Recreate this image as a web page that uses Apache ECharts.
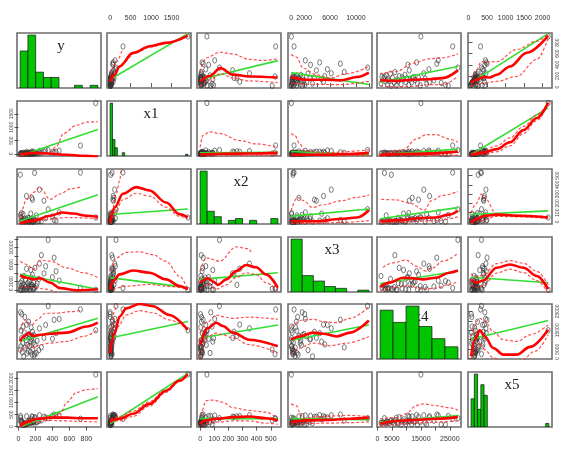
<!DOCTYPE html>
<html><head><meta charset="utf-8">
<script src="https://cdn.jsdelivr.net/npm/echarts@6/dist/echarts.min.js"></script>
<style>html,body{margin:0;padding:0;background:#fff}#c{width:563px;height:450px}</style>
</head><body><div id="c"></div>
<script>
// ---------- variables ----------
const varNames = ['y','x1','x2','x3','x4','x5'];
const dataY  = [910,730,190,350,480,158,247,443,420,400,320,300,270,240,220,210,195,185,180,175,170,165,160,155,150,145,140,135,130,125,120,115,108,100,95,90,85,80,75,70,62,55,50,45,40,35,30,28,25,22];
const dataX1 = [1900,314,50,145,120,95,110,80,60,70,130,85,40,35,30,25,45,20,15,55,10,65,28,12,5,40,22,8,18,30,48,3,12,25,75,6,16,35,2,9,20,44,1,13,4,8,26,7,2,14];
const dataX2 = [48,534,530,137,103,260,349,14,22,60,40,230,8,12,5,70,18,3,30,10,2,240,6,35,4,90,15,26,1,42,9,3,44,16,280,7,28,2,11,33,5,85,20,12,3,95,50,8,75,510];
const dataX3 = [50,460,300,11800,2200,1200,6200,4400,7600,3000,5600,3900,8200,2600,1500,900,5200,600,1800,350,150,3600,1100,2900,700,4700,200,1300,100,2000,800,400,1600,250,5000,120,2400,650,1000,180,3300,80,1400,500,2100,60,900,30,1700,300];
const dataX4 = [15000,26000,2400,27800,21000,12000,16000,13500,20500,10500,17800,11000,6000,4500,9500,3000,7500,1500,12500,8500,5200,14200,2100,10200,16500,9000,3600,11200,6800,13000,19500,4000,7200,2800,18000,9800,11800,5800,22000,13800,1200,17000,8200,3400,23500,10800,14800,6500,24500,4800];
const dataX5 = [2150,324,350,350,460,420,470,480,500,440,380,410,260,230,200,180,390,170,210,240,190,400,175,205,165,300,185,215,160,225,245,150,120,140,430,110,100,130,90,80,150,95,85,200,75,240,190,370,440,260];

// axis ranges (data range + 4%)
const axisMinArr = [-17, -76, -22, -480, -176, -14];
const axisMaxArr = [972, 1976, 572, 12480, 28876, 2254];

// tick values and tick labels
const ticksY  = [0,200,400,600,800];            const labelsY  = [0,200,400,600,800];
const ticksX1 = [0,500,1000,1500];              const labelsX1 = [0,500,1000,1500];
const ticksX2 = [0,100,200,300,400,500];        const labelsX2 = [0,100,200,300,400,500];
const ticksX3 = [0,2000,4000,6000,8000,10000,12000]; const labelsX3 = [0,2000,6000,10000];
const ticksX4 = [0,5000,10000,15000,20000,25000];    const labelsX4 = [0,5000,15000,25000];
const ticksX5 = [0,500,1000,1500,2000];         const labelsX5 = [0,500,1000,1500,2000];

// histograms (diagonal)
const histStart = [20, 0, 0, 0, 900, 70];
const histWidth = [91.5, 59.4, 50, 1714, 4483, 87.5];
const histCountsY  = [14,20,6,4,4,0,0,1,0,1];
const histCountsX1 = [32,10,5,0,0,2,0,0,0,0,0,0,0,0,0,0,0,0,0,0,0,0,0,0,0,0,0,0,0,0,0,1];
const histCountsX2 = [29,7,4,0,2,3,0,2,0,0,3];
const histCountsX3 = [29,9,6,3,2,0,1];
const histCountsX4 = [12,9,13,8,5,3];
const histCountsX5 = [8,15,5,12,9,0,0,0,0,0,0,0,0,0,0,0,0,0,0,0,0,0,0,1];

// fitted lines: [horizontal var, vertical var]
const fit_y_x1 = {lin:[[0,135],[1900,960]], sm:[[0,100],[110,220],[230,370],[560,615],[970,735],[1360,795],[1900,925]], up:[[0,200],[150,450],[300,680]], lo:[[40,90],[300,420],[600,610],[1000,720],[1400,790],[1900,915]]};
const fit_y_x2 = {lin:[[0,135],[550,475]], sm:[[0,102],[67,200],[144,340],[233,223],[347,191],[548,171]], up:[[0,280],[45,527],[140,626],[230,596],[347,497],[440,478],[548,507]], lo:[[0,20],[70,130],[144,240],[233,160],[347,110],[548,80]]};
const fit_y_x3 = {lin:[[0,260],[12000,45]], sm:[[0,181],[2370,131],[4960,131],[7560,121],[10150,181],[12000,260]], up:[[0,586],[820,537],[1850,339],[3930,220],[5980,161],[8570,240],[12000,369]], lo:[[0,72],[3000,50],[7560,42],[12000,102]]};
const fit_y_x4 = {lin:[[900,85],[27800,370]], sm:[[900,121],[6500,112],[12300,131],[17800,141],[22500,161],[27800,300]], up:[[900,240],[6500,280],[12300,428],[17800,507],[22500,527],[27800,596]], lo:[[900,23],[6500,3],[12300,13],[17800,42],[22500,42],[27800,191]]};
const fit_y_x5 = {lin:[[70,75],[2150,960]], sm:[[70,72],[213,131],[394,181],[576,171],[757,220],[1120,369],[1574,616],[2150,923]], up:[[70,161],[213,310],[349,458],[440,448],[757,458],[1302,675],[1846,824],[2150,960]], lo:[[70,13],[394,72],[757,102],[1302,191],[1846,497],[2150,883]]};

const fit_x1_y  = {lin:[[20,-70],[935,910]], sm:[[20,-30],[181,40],[379,10],[567,-30],[764,-70],[935,-110]], up:[[20,-14],[178,30],[374,50],[450,300],[530,765],[687,1076],[804,1190],[935,1206]], lo:[[20,-90],[400,-150],[935,-300]]};
const fit_x1_x2 = {lin:[[0,45],[550,60]], sm:[[0,-20],[150,10],[350,15],[548,40]], up:[[0,252],[20,694],[67,827],[138,765],[281,498],[394,375],[548,252]], lo:[[0,-90],[548,-40]]};
const fit_x1_x3 = {lin:[[0,90],[12000,-30]], sm:[[0,-30],[5000,-30],[9000,0],[12000,40]], up:[[0,765],[557,694],[1334,375],[2112,109],[4963,47],[12000,150]], lo:[[0,-80],[12000,-60]]};
const fit_x1_x4 = {lin:[[900,-35],[27800,180]], sm:[[900,-35],[14000,6],[27800,88]], up:[[1860,-14],[8830,150],[13480,560],[16960,724],[20160,724],[24810,560],[27800,437]], lo:[[900,-90],[27800,-40]]};
const fit_x1_x5 = {lin:[[70,-30],[2150,1720]], sm:[[70,-35],[394,47],[757,180],[1120,437],[1483,888],[1846,1340],[2150,1912]], up:[[70,10],[394,120],[757,300],[1120,600],[1483,1030],[1846,1450],[2150,1930]], lo:[[70,-80],[394,-10],[757,80],[1120,300],[1483,760],[1846,1250],[2150,1900]]};

const fit_x2_y  = {lin:[[20,10],[935,295]], sm:[[20,-16],[178,14],[374,67],[511,103],[648,91],[804,67],[935,55]], up:[[22,32],[100,245],[178,320],[249,374],[374,245],[491,302],[608,358],[745,382]], lo:[[20,-20],[178,10],[374,30],[550,48],[740,45],[935,32]]};
const fit_x2_x1 = {lin:[[0,80],[1900,140]], sm:[[0,-4],[111,156],[313,305],[638,376],[962,340],[1368,210],[1692,85],[1895,49]], up:[[5,-4],[70,156],[151,305],[232,447],[273,554],[300,620]], lo:[[20,-20],[111,100],[313,240],[638,310],[962,280],[1368,160],[1692,60],[1895,40]]};
const fit_x2_x3 = {lin:[[0,60],[12000,140]], sm:[[0,8],[4028,8],[7613,32],[10175,49],[12000,127]], up:[[0,121],[954,266],[1979,228],[3259,156],[5052,186],[7613,228],[10175,266],[12000,293]], lo:[[0,-15],[4000,-15],[8000,-5],[12000,15]]};
const fit_x2_x4 = {lin:[[900,35],[27800,155]], sm:[[900,8],[8780,20],[14520,43],[20260,49],[24860,79],[27800,121]], up:[[1320,245],[6480,239],[11080,204],[16240,127],[18540,228],[22560,287],[27800,329]], lo:[[900,-16],[8780,-4],[14520,8],[20260,14],[27800,55]]};
const fit_x2_x5 = {lin:[[70,80],[2150,120]], sm:[[70,-4],[213,32],[440,67],[757,79],[1392,67],[2150,49]], up:[[70,100],[213,200],[350,300],[440,260],[757,85],[1392,75],[2150,55]], lo:[[70,-20],[300,10],[757,60],[1400,55],[2150,40]]};

const fit_x3_y  = {lin:[[20,3700],[935,170]], sm:[[20,3410],[100,2890],[178,2500],[257,2760],[374,1720],[491,430],[687,-90],[935,170]], up:[[22,6780],[100,6000],[178,4830],[257,7040],[374,6780],[569,5220],[765,4060],[935,2890]], lo:[[20,700],[180,550],[340,150],[450,-600]]};
const fit_x3_x1 = {lin:[[0,2900],[1900,560]], sm:[[0,170],[70,2110],[232,3670],[557,4580],[962,4060],[1368,2500],[1692,950],[1895,170]], up:[[30,4450],[151,7560],[394,8850],[719,8980],[1043,8330],[1368,6780],[1692,3280],[1895,170]], lo:[[70,100],[400,900],[960,1300],[1500,800],[1900,100]]};
const fit_x3_x2 = {lin:[[0,2500],[550,4060]], sm:[[0,1720],[55,2760],[91,1980],[126,1200],[185,2500],[255,4450],[325,5870],[396,5350],[466,3670],[549,560]], up:[[0,4450],[44,7560],[138,6780],[255,10150],[337,9760],[361,8980]], lo:[[0,170],[55,1460],[114,170],[185,1200],[255,2890],[325,4060],[396,3670],[466,1720],[549,-350]]};
const fit_x3_x4 = {lin:[[900,1450],[27800,4450]], sm:[[900,690],[4190,1720],[8780,2890],[12230,2760],[15670,2500],[20260,2890],[24860,4060],[27800,4580]], up:[[1890,5350],[5330,6390],[9930,7040],[13370,5610],[16820,4450],[19110,5220],[22560,6780],[27800,8590]], lo:[[900,-220],[6480,690],[11080,950],[15670,170],[20260,430],[24860,1330],[27800,1980]]};
const fit_x3_x5 = {lin:[[70,3000],[2150,1700]], sm:[[70,2500],[213,1720],[394,2240],[757,5220],[1120,6000],[1483,5220],[1846,3280],[2150,170]], up:[[70,3800],[213,3000],[394,3600],[757,6200],[1120,6900],[1483,6300],[1846,4400],[2150,1200]], lo:[[70,1200],[213,600],[394,1000],[757,4000],[1120,4900],[1483,4100],[1846,2200],[2150,-700]]};

const fit_x4_y  = {lin:[[20,9200],[935,21300]], sm:[[20,9120],[61,11740],[120,13480],[178,12030],[257,12610],[374,13190],[569,13770],[804,17000],[935,19000]], up:[[22,15200],[80,20500],[159,17800],[218,20500],[315,24000],[433,24000],[608,24800],[757,25700]], lo:[[20,3890],[80,5650],[120,7380],[178,5650],[257,7380],[374,8250],[569,9120],[765,11740],[935,15200]]};
const fit_x4_x1 = {lin:[[0,10900],[1900,19600]], sm:[[0,3020],[111,13480],[232,22200],[394,26550],[719,28880],[1043,27700],[1449,23070],[1895,15220]], up:[[30,12610],[111,25680],[190,30000],[260,34000]], lo:[[30,6510],[190,16960],[394,23070],[719,25390],[1043,24230],[1449,20450],[1895,15510]]};
const fit_x4_x2 = {lin:[[0,10900],[550,17800]], sm:[[0,7380],[55,16090],[114,19000],[161,17250],[232,13770],[349,10000],[549,6510]], up:[[0,13480],[55,19580],[114,23070],[161,22200],[232,21330],[349,21910],[549,20750]], lo:[[0,400],[55,11740],[114,13480],[161,12610],[232,10860],[349,7380],[549,3020]]};
const fit_x4_x3 = {lin:[[0,9700],[12000,17800]], sm:[[0,10000],[1334,11740],[3408,13770],[4963,13190],[7037,11740],[9110,13770],[12000,20160]], up:[[0,17000],[1850,20450],[3408,20740],[4963,19580],[7037,19000],[9110,21330],[12000,27420]], lo:[[0,2150],[1334,5650],[3408,8250],[6000,6800],[8600,8250],[12000,11740]]};
const fit_x4_x5 = {lin:[[70,10300],[2150,20200]], sm:[[70,1280],[167,10000],[304,14930],[440,11740],[667,5650],[939,2150],[1302,2150],[1664,6220],[2150,15220]], up:[[70,11740],[304,21330],[440,19580],[667,14350],[939,10000],[1302,9120],[1664,12610],[2150,17840]], lo:[[70,-200],[304,8250],[440,4760],[667,400],[1000,-1500],[1400,-1500],[1800,4000],[2150,12600]]};

const fit_x5_y  = {lin:[[20,-10],[935,1230]], sm:[[20,9],[100,190],[218,326],[374,371],[569,371],[765,349],[935,349]], up:[[20,122],[178,326],[374,394],[491,530],[569,1006],[687,1415],[804,1528],[935,1574]], lo:[[20,-14],[178,190],[374,258],[569,235],[765,213],[935,190]]};
const fit_x5_x1 = {lin:[[0,120],[1900,2200]], sm:[[0,235],[232,326],[557,530],[962,938],[1368,1483],[1692,1891],[1895,2163]], up:[[0,300],[230,420],[560,640],[960,1030],[1370,1540],[1690,1910],[1900,2170]], lo:[[0,170],[230,250],[560,420],[960,850],[1370,1420],[1690,1870],[1900,2150]]};
const fit_x5_x2 = {lin:[[0,330],[550,330]], sm:[[0,122],[44,258],[114,326],[232,394],[349,417],[466,349],[549,258]], up:[[9,462],[44,1075],[91,1098],[161,1006],[232,780],[349,666],[466,598],[549,326]], lo:[[9,54],[114,190],[232,235],[349,235],[466,145],[549,100]]};
const fit_x5_x3 = {lin:[[0,330],[12000,290]], sm:[[0,190],[2370,258],[6000,281],[9110,326],[12000,371]], up:[[0,938],[815,870],[1334,598],[1850,326],[4000,417],[9000,462],[12000,417]], lo:[[0,100],[5000,145],[12000,190]]};
const fit_x5_x4 = {lin:[[900,190],[27800,460]], sm:[[900,122],[6480,235],[13370,281],[20260,326],[27800,394]], up:[[900,326],[6480,371],[9930,530],[13370,870],[15670,938],[20260,870],[24860,780],[27800,689]], lo:[[900,9],[6480,100],[13370,145],[20260,190],[27800,235]]};

// ---------- assembly ----------
const varData = [dataY, dataX1, dataX2, dataX3, dataX4, dataX5];
const tickArr = [ticksY, ticksX1, ticksX2, ticksX3, ticksX4, ticksX5];
const labelArr = [labelsY, labelsX1, labelsX2, labelsX3, labelsX4, labelsX5];
const histCounts = [histCountsY, histCountsX1, histCountsX2, histCountsX3, histCountsX4, histCountsX5];
const fitTable = [
  [null, fit_y_x1, fit_y_x2, fit_y_x3, fit_y_x4, fit_y_x5],
  [fit_x1_y, null, fit_x1_x2, fit_x1_x3, fit_x1_x4, fit_x1_x5],
  [fit_x2_y, fit_x2_x1, null, fit_x2_x3, fit_x2_x4, fit_x2_x5],
  [fit_x3_y, fit_x3_x1, fit_x3_x2, null, fit_x3_x4, fit_x3_x5],
  [fit_x4_y, fit_x4_x1, fit_x4_x2, fit_x4_x3, null, fit_x4_x5],
  [fit_x5_y, fit_x5_x1, fit_x5_x2, fit_x5_x3, fit_x5_x4, null]
];

const colLeft = [17, 107, 197, 288, 377, 468];
const rowTop = [33, 101, 169, 237, 304, 372];
const PW = 84, PH = 55;
const plainNum = v => String(v);

const grids = [], xAxes = [], yAxes = [], series = [], graphics = [];
const n = dataY.length;

for (let r = 0; r < 6; r++) {
  for (let c = 0; c < 6; c++) {
    const k = r * 6 + c;
    grids.push({left: colLeft[c], top: rowTop[r], width: PW, height: PH, show: true,
      borderColor: '#6e6e6e', borderWidth: 1.6, backgroundColor: '#fff', containLabel: false, outerBoundsMode: 'none'});
    const topEdge = (r === 0 && c % 2 === 1);
    const botEdge = (r === 5 && c % 2 === 0);
    const xEdge = topEdge || botEdge;
    xAxes.push({type: 'value', gridIndex: k, min: axisMinArr[c], max: axisMaxArr[c],
      position: topEdge ? 'top' : 'bottom',
      axisLine: {show: false}, splitLine: {show: false},
      axisTick: {show: xEdge, length: 4, customValues: tickArr[c], lineStyle: {color: '#333', width: 0.8}},
      axisLabel: {show: xEdge, customValues: labelArr[c], formatter: plainNum, fontSize: 7, color: '#333', margin: topEdge ? 11 : 9,
        fontFamily: 'Liberation Sans', showMinLabel: true, showMaxLabel: true}});
    const rightEdge = (c === 5 && r % 2 === 0);
    const leftEdge = (c === 0 && r % 2 === 1);
    const yEdge = rightEdge || leftEdge;
    if (r === c) {
      const mx = Math.max(...histCounts[r]) * 1.04;
      yAxes.push({type: 'value', gridIndex: k, min: 0, max: mx, show: false,
        axisLine: {show: false}, splitLine: {show: false}, axisTick: {show: false}, axisLabel: {show: false}});
    } else {
      yAxes.push({type: 'value', gridIndex: k, min: axisMinArr[r], max: axisMaxArr[r],
        position: rightEdge ? 'right' : 'left',
        axisLine: {show: false}, splitLine: {show: false},
        axisTick: {show: yEdge, length: 4, customValues: tickArr[r], lineStyle: {color: '#333', width: 0.8}},
        axisLabel: {show: yEdge, customValues: labelArr[r], formatter: plainNum, fontSize: 5, color: '#444', rotate: 90, margin: 3,
          fontFamily: 'Liberation Sans', showMinLabel: true, showMaxLabel: true}});
    }

    if (r === c) {
      const bins = histCounts[r].map((cnt, i) => [histStart[r] + i * histWidth[r], histStart[r] + (i + 1) * histWidth[r], cnt]).filter(d => d[2] > 0);
      series.push({type: 'custom', xAxisIndex: k, yAxisIndex: k, clip: true, silent: true,
        encode: {x: [0, 1], y: 2}, data: bins,
        renderItem: function (params, api) {
          const p0 = api.coord([api.value(0), api.value(2)]);
          const p1 = api.coord([api.value(1), 0]);
          return {type: 'rect', shape: {x: p0[0], y: p0[1], width: p1[0] - p0[0], height: p1[1] - p0[1]},
            style: {fill: '#00c400', stroke: '#111', lineWidth: 0.7}};
        }});
      graphics.push({type: 'text', x: colLeft[c] + PW / 2 + 2, y: rowTop[r] + 13,
        style: {text: varNames[r], font: '15px "Liberation Serif"', fill: '#222', textAlign: 'center', textVerticalAlign: 'middle'}});
    } else {
      const pts = [];
      for (let i = 0; i < n; i++) pts.push([varData[c][i], varData[r][i]]);
      series.push({type: 'scatter', xAxisIndex: k, yAxisIndex: k, data: pts, symbol: 'circle', symbolSize: [4, 5.5],
        silent: true, itemStyle: {color: 'rgba(0,0,0,0)', borderColor: '#333', borderWidth: 0.8}});
      const f = fitTable[r][c];
      const base = {type: 'line', xAxisIndex: k, yAxisIndex: k, symbol: 'none', showSymbol: false, silent: true,
        clip: true, smooth: 0.35, smoothMonotone: 'x'};
      series.push(Object.assign({}, base, {data: f.lin, smooth: false, lineStyle: {color: '#33dd33', width: 1.6}}));
      series.push(Object.assign({}, base, {data: f.up, lineStyle: {color: '#ff3030', width: 1.2, type: [3, 2], opacity: 0.85}}));
      series.push(Object.assign({}, base, {data: f.lo, lineStyle: {color: '#ff3030', width: 1.2, type: [3, 2], opacity: 0.85}}));
      series.push(Object.assign({}, base, {data: f.sm, lineStyle: {color: '#ff0000', width: 2.6}}));
    }
  }
}

const chart = echarts.init(document.getElementById('c'), null, {renderer: 'canvas'});
chart.setOption({animation: false, backgroundColor: '#fff', grid: grids, xAxis: xAxes, yAxis: yAxes, series: series, graphic: graphics});
</script>
</body></html>
